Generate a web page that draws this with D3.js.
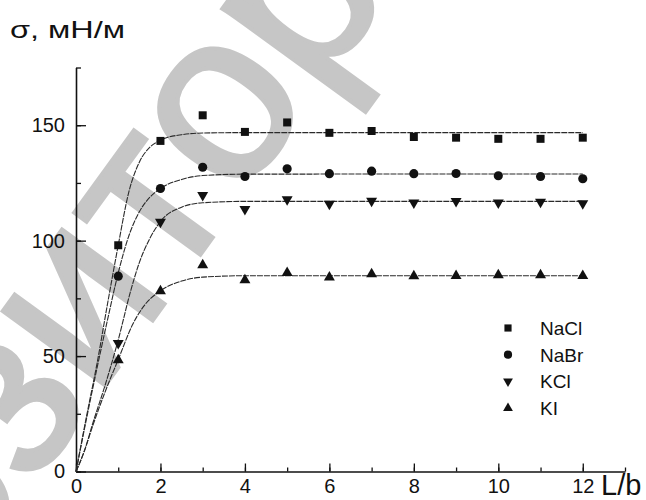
<!DOCTYPE html>
<html>
<head>
<meta charset="utf-8">
<script src="https://cdn.jsdelivr.net/npm/d3@7"></script>
<style>
  body { margin: 0; background: #fff; }
  svg { display: block; font-family: "Liberation Sans", Arial, sans-serif; }
</style>
</head>
<body>
<svg width="646" height="500"></svg>
<script>
// measured points, L/b = 1..12
const lb = [1, 2, 3, 4, 5, 6, 7, 8, 9, 10, 11, 12];
const nacl = [98, 143.2, 154.3, 147.1, 151.2, 146.7, 147.5, 144.9, 144.6, 144.1, 144.1, 144.6];
const nabr = [84.6, 122.6, 131.8, 127.8, 131.1, 129, 130.1, 129, 129.1, 128.1, 127.8, 126.8];
const kcl = [55.6, 108.1, 119.7, 113.6, 117.9, 115.9, 117.2, 116.5, 117.1, 116.5, 116.8, 116.1];
const ki = [48.3, 78.1, 89.4, 82.9, 86.1, 84.1, 85.5, 84.6, 84.8, 85.1, 85.1, 84.8];

// fitted curves as [L/b, sigma]
const fitNacl = [[0, 0], [0.25, 24], [0.5, 47], [0.75, 73], [1, 98], [1.25, 121], [1.5, 134], [1.75, 140.5], [2, 143.5], [2.5, 145.9], [3, 146.6], [4, 146.8], [12, 146.8]];
const fitNabr = [[0, 0], [0.25, 23], [0.5, 45], [0.75, 66], [1, 86], [1.25, 102], [1.5, 112.5], [1.75, 118.8], [2, 122.6], [2.5, 126.5], [3, 128.2], [4, 128.8], [12, 128.9]];
const fitKcl = [[0, 0], [0.2, 9], [0.4, 21], [0.7, 38], [1, 57], [1.3, 78.6], [1.5, 90.5], [1.75, 101], [2, 108.3], [2.5, 114.5], [3, 116.4], [4, 117], [12, 117]];
const fitKi = [[0, 0], [0.2, 9], [0.4, 20], [0.7, 35], [1, 48.5], [1.35, 64], [1.6, 71.5], [2, 78.3], [2.5, 82.5], [3, 84.2], [4, 84.8], [12, 84.8]];

const names = ["NaCl", "NaBr", "KCl", "KI"];
const yTicks = [0, 50, 100, 150];
const xTicks = [0, 2, 4, 6, 8, 10, 12];

const svg = d3.select("svg");

const x = d3.scaleLinear().domain([0, 13]).range([76, 625]);
const y = d3.scaleLinear().domain([0, 175]).range([471.5, 67.5]);

// watermark
const wm = svg.append("text")
  .attr("transform", "translate(226,113) rotate(-54)")
  .attr("font-size", 240)
  .attr("fill", "#c6c6c6")
  .attr("stroke", "#c6c6c6")
  .attr("stroke-width", 4)
  .text("репозиторий");
const node = wm.node();
const off = node.getSubStringLength(0, 7) + node.getSubStringLength(7, 1) / 2;
wm.attr("x", -off).attr("y", 240 * 0.26);

// axes
svg.append("g")
  .attr("transform", "translate(0," + y(0) + ")")
  .call(d3.axisBottom(x).tickValues(d3.range(0, 14)).tickSize(-4).tickSizeOuter(0).tickFormat(""))
  .call((g) => g.select(".domain").remove());
svg.append("g")
  .attr("transform", "translate(" + x(0) + ",0)")
  .call(d3.axisLeft(y).tickValues(d3.range(0, 176, 25)).tickSize(-5).tickSizeOuter(0).tickFormat(""))
  .call((g) => g.select(".domain").remove());

const xAxis = svg.append("g")
  .attr("transform", "translate(0," + y(0) + ")")
  .call(d3.axisBottom(x).tickValues(xTicks).tickSize(-8).tickSizeOuter(0).tickPadding(7));
const yAxis = svg.append("g")
  .attr("transform", "translate(" + x(0) + ",0)")
  .call(d3.axisLeft(y).tickValues(yTicks).tickSize(-10).tickSizeOuter(0).tickPadding(11));

svg.selectAll(".tick line").attr("stroke", "#111").attr("stroke-width", 1.3);
svg.selectAll(".domain").attr("stroke", "#111").attr("stroke-width", 1.6);
svg.selectAll(".tick text").attr("font-size", 20).attr("fill", "#111").attr("font-family", "Liberation Sans, Arial, sans-serif");

svg.append("text")
  .attr("x", 601).attr("y", 495)
  .attr("font-size", 29).attr("fill", "#111")
  .text("L/b");

svg.append("text")
  .attr("x", 10).attr("y", 38)
  .attr("font-size", 24).attr("fill", "#111")
  .attr("textLength", 115).attr("lengthAdjust", "spacingAndGlyphs")
  .text("σ, мН/м");

// fit lines
const line = d3.line()
  .x((d) => x(d[0]))
  .y((d) => y(d[1]))
  .curve(d3.curveMonotoneX);

svg.append("g")
  .selectAll("path")
  .data([fitNacl, fitNabr, fitKcl, fitKi])
  .join("path")
  .attr("d", line)
  .attr("fill", "none")
  .attr("stroke", "#2a2a2a")
  .attr("stroke-width", 1.1)
  .attr("stroke-dasharray", "6,1");

// markers
const shapes = [
  { sym: d3.symbolSquare, size: 64, rot: 0 },
  { sym: d3.symbolCircle, size: 66, rot: 0 },
  { sym: d3.symbolTriangle, size: 52, rot: 180 },
  { sym: d3.symbolTriangle, size: 52, rot: 0 },
];
const series = [nacl, nabr, kcl, ki];

series.forEach((vals, s) => {
  const sh = shapes[s];
  svg.append("g")
    .selectAll("path")
    .data(vals)
    .join("path")
    .attr("d", d3.symbol().type(sh.sym).size(sh.size))
    .attr("transform", (d, i) => "translate(" + x(lb[i]) + "," + y(d) + ") rotate(" + sh.rot + ")")
    .attr("fill", "#111");
});

// legend
const legend = svg.append("g").attr("transform", "translate(508,335)");
const row = legend.selectAll("g")
  .data(names)
  .join("g")
  .attr("transform", (d, i) => "translate(0," + i * 26.7 + ")");
row.append("path")
  .attr("d", (d, i) => d3.symbol().type(shapes[i].sym).size(shapes[i].size * 0.8)())
  .attr("transform", (d, i) => "translate(0,-7) rotate(" + shapes[i].rot + ")")
  .attr("fill", "#111");
row.append("text")
  .attr("x", 32)
  .attr("font-size", 19)
  .attr("fill", "#111")
  .text((d) => d);
</script>
</body>
</html>
